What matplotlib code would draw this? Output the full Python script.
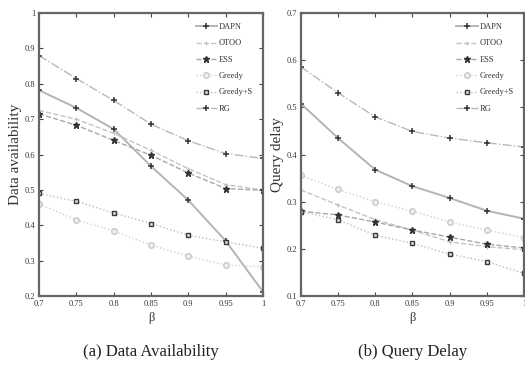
import matplotlib
matplotlib.use("Agg")
import matplotlib.pyplot as plt

beta = [0.7, 0.75, 0.8, 0.85, 0.9, 0.95, 1.0]
xtick_labels = ["0.7", "0.75", "0.8", "0.85", "0.9", "0.95", "1"]

# (a) Data availability
avail_dapn = [0.782, 0.732, 0.672, 0.567, 0.471, 0.356, 0.212]
avail_otoo = [0.725, 0.700, 0.660, 0.612, 0.560, 0.515, 0.500]
avail_ess = [0.715, 0.683, 0.640, 0.598, 0.548, 0.504, 0.499]
avail_greedy = [0.460, 0.415, 0.384, 0.344, 0.313, 0.288, 0.283]
avail_greedys = [0.490, 0.468, 0.435, 0.405, 0.372, 0.353, 0.335]
avail_rg = [0.880, 0.815, 0.753, 0.686, 0.639, 0.603, 0.589]
avail_yticks = [0.2, 0.3, 0.4, 0.5, 0.6, 0.7, 0.8, 0.9, 1.0]
avail_ylabels = ["0.2", "0.3", "0.4", "0.5", "0.6", "0.7", "0.8", "0.9", "1"]

# (b) Query delay
delay_dapn = [0.508, 0.435, 0.368, 0.333, 0.308, 0.281, 0.264]
delay_otoo = [0.325, 0.293, 0.262, 0.240, 0.215, 0.205, 0.198]
delay_ess = [0.280, 0.272, 0.257, 0.240, 0.225, 0.210, 0.202]
delay_greedy = [0.356, 0.326, 0.300, 0.280, 0.257, 0.240, 0.224]
delay_greedys = [0.279, 0.262, 0.229, 0.212, 0.189, 0.173, 0.148]
delay_rg = [0.586, 0.531, 0.480, 0.449, 0.435, 0.425, 0.416]
delay_yticks = [0.1, 0.2, 0.3, 0.4, 0.5, 0.6, 0.7]
delay_ylabels = ["0.1", "0.2", "0.3", "0.4", "0.5", "0.6", "0.7"]

names = ["DAPN", "OTOO", "ESS", "Greedy", "Greedy+S", "RG"]

styles = [
    dict(color="#b4b4b4", ls="-", lw=1.4, marker="+", ms=4.5, mec="#333333", mew=1.1),
    dict(color="#c4c4c4", ls="--", lw=1.0, marker="+", ms=3.5, mec="#c0c0c0", mew=0.8),
    dict(color="#a8a8a8", ls="--", lw=1.0, marker="*", ms=4.5, mec="#333333", mfc="#333333"),
    dict(color="#cfcfcf", ls=":", lw=1.0, marker="o", ms=4, mec="#c8c8c8", mfc="#f0f0f0"),
    dict(color="#bcbcbc", ls=":", lw=1.0, marker="s", ms=3.5, mec="#3a3a3a", mfc="#dddddd"),
    dict(color="#b8b8b8", ls="-.", lw=1.0, marker="+", ms=4, mec="#333333", mew=1.1),
]

fig = plt.figure(figsize=(5.25, 3.85), dpi=100)
ax1 = fig.add_axes([0.0743, 0.231, 0.4267, 0.735])
ax2 = fig.add_axes([0.573, 0.231, 0.425, 0.735])

serif = ["Liberation Serif", "DejaVu Serif"]

def draw(ax, series, yticks, ylabels, ylim, ylabel):
    for name, vals, st in zip(names, series, styles):
        ax.plot(beta, vals, label=name, **st)
    ax.set_xlim(0.7, 1.0)
    ax.set_ylim(*ylim)
    ax.set_xticks(beta)
    ax.set_xticklabels(xtick_labels, family=serif, fontsize=6)
    ax.set_yticks(yticks)
    ax.set_yticklabels(ylabels, family=serif, fontsize=6)
    ax.tick_params(direction="in", top=True, right=True, length=3, width=0.8,
                   color="#444444", pad=2.5, labelcolor="#333333")
    for sp in ax.spines.values():
        sp.set_linewidth(1.6)
        sp.set_color("#666666")
    ax.set_xlabel("β", family=serif, fontsize=9, labelpad=3, color="#333333")
    ax.set_ylabel(ylabel, family=serif, fontsize=11, labelpad=2, color="#333333")
    ax.legend(loc="upper right", frameon=False, prop={"family": serif, "size": 6},
              handlelength=2.6, handletextpad=0.2, labelspacing=1.0,
              borderaxespad=0.8, labelcolor="#333333")

draw(ax1, [avail_dapn, avail_otoo, avail_ess, avail_greedy, avail_greedys, avail_rg],
     avail_yticks, avail_ylabels, (0.2, 1.0), "Data availability")
draw(ax2, [delay_dapn, delay_otoo, delay_ess, delay_greedy, delay_greedys, delay_rg],
     delay_yticks, delay_ylabels, (0.1, 0.7), "Query delay")

fig.text(0.287, 0.085, "(a) Data Availability", family=serif, fontsize=12,
         ha="center", va="center", color="#222222")
fig.text(0.785, 0.085, "(b) Query Delay", family=serif, fontsize=12,
         ha="center", va="center", color="#222222")

fig.savefig("out.png", dpi=100)
